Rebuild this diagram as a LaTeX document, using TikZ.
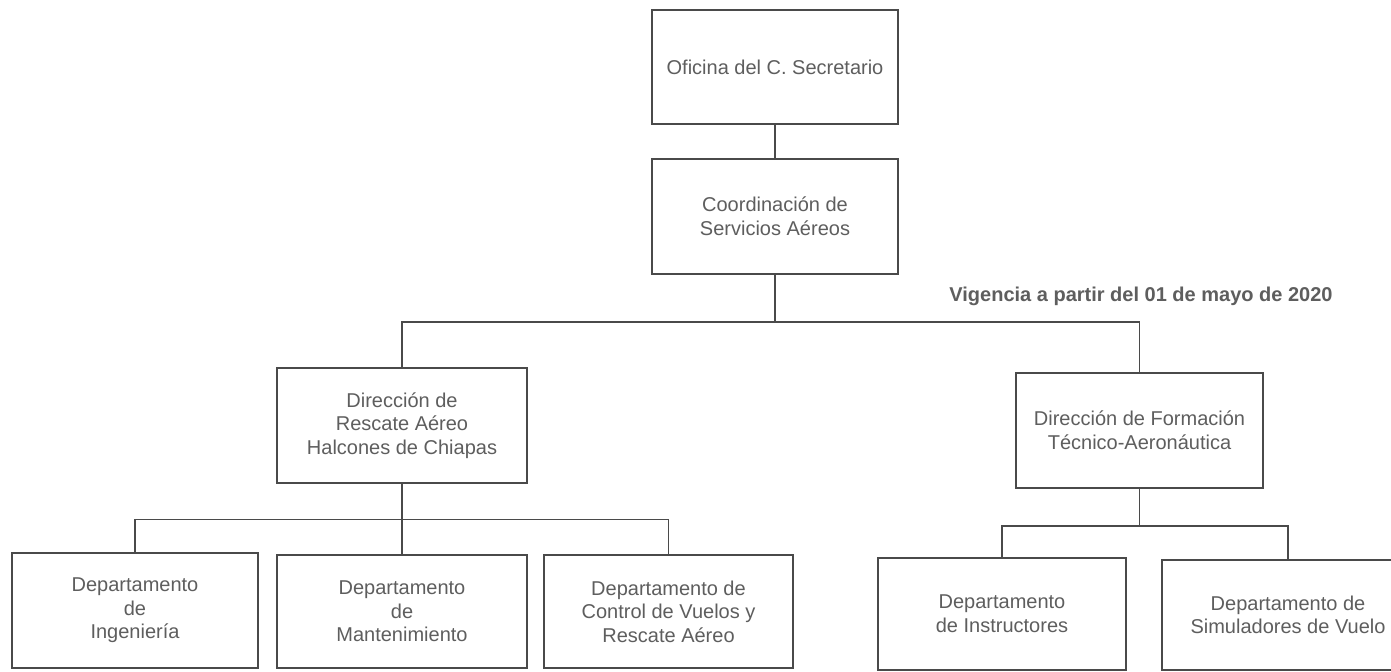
\documentclass[tikz,border=0pt]{standalone}
\usepackage{fontspec}
\setmainfont{Liberation Sans}
\definecolor{linec}{HTML}{4A4A4A}
\definecolor{textc}{HTML}{5E5E5E}
\begin{document}
\begin{tikzpicture}[x=0.5pt,y=-0.5pt,
  box/.style={draw=linec, line width=0.8pt, text=textc, align=center, inner sep=0pt,
    font=\fontsize{10}{11.8}\selectfont},
  conn/.style={draw=linec, line width=0.75pt}]
\useasboundingbox (0,0) rectangle (1391,672);
\fill[white] (0,0) rectangle (1391,672);
\begin{scope}
\clip (0,0) rectangle (1391,672);
\node[box, minimum width=123pt, minimum height=57pt] (ofi) at (775,67) {Oficina del C. Secretario};
\node[box, minimum width=123pt, minimum height=57.5pt] (coord) at (775,216.5) {Coordinación de\\Servicios Aéreos};
\node[box, minimum width=125pt, minimum height=57.5pt] (resc) at (402,425.5) {Dirección de\\Rescate Aéreo\\Halcones de Chiapas};
\node[box, minimum width=123.5pt, minimum height=57.5pt] (form) at (1139.5,430.5) {Dirección de Formación\\Técnico-Aeronáutica};
\node[box, minimum width=123pt, minimum height=57.5pt] (ing) at (135,610.5) {Departamento\\de\\Ingeniería};
\node[box, minimum width=125pt, minimum height=56.5pt] (mant) at (402,611.5) {Departamento\\de\\Mantenimiento};
\node[box, minimum width=124.5pt, minimum height=56.5pt] (ctrl) at (668.5,611.5) {Departamento de\\Control de Vuelos y\\Rescate Aéreo};
\node[box, minimum width=124pt, minimum height=56pt] (inst) at (1002,614) {Departamento\\de Instructores};
\node[box, minimum width=126pt, minimum height=55pt] (sim) at (1288,615) {Departamento de\\Simuladores de Vuelo};
\end{scope}
\node[text=textc, font=\fontsize{10}{12}\selectfont\bfseries, inner sep=0pt] (vig) at (1141,296) {Vigencia a partir del 01 de mayo de 2020};
\coordinate (b1) at (775,322);
\coordinate (b2) at (402,519.5);
\coordinate (b3) at (1139.5,526);
\draw[conn] (ofi) -- (coord);
\draw[conn] (coord) -- (b1);
\draw[conn] (resc.north) |- (b1);
\draw[conn] (form.north) |- (b1);
\draw[conn] (resc) -- (mant);
\draw[conn] (ing.north) |- (b2);
\draw[conn] (ctrl.north) |- (b2);
\draw[conn] (form) -- (b3);
\draw[conn] (inst.north) |- (b3);
\draw[conn] (sim.north) |- (b3);
\end{tikzpicture}
\end{document}
